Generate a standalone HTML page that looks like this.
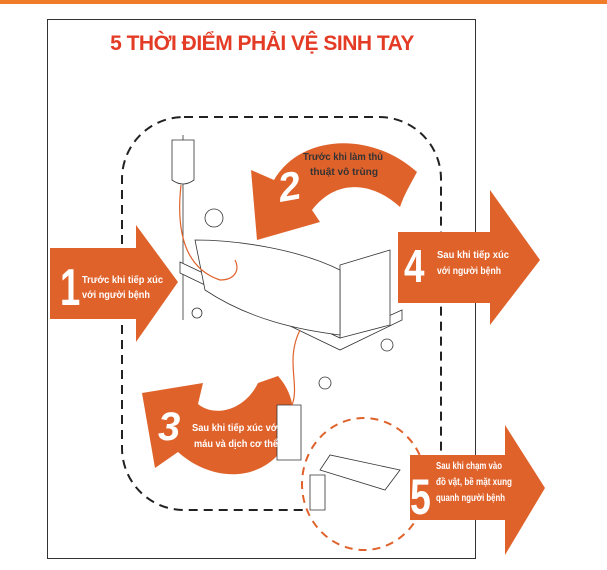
<!DOCTYPE html>
<html><head><meta charset="utf-8"><style>
html,body{margin:0;padding:0;background:#fff;}
svg{display:block;}
text{font-family:"Liberation Sans",sans-serif;}
</style></head><body>
<svg width="607" height="570" viewBox="0 0 607 570">
<rect x="0" y="0" width="607" height="4" fill="#f07c2a"/>
<rect x="47.5" y="19.5" width="428" height="539" fill="#fff" stroke="#333" stroke-width="1"/>
<text x="262" y="50" text-anchor="middle" font-size="21" font-weight="bold" fill="#e33b25" letter-spacing="-0.5">5 THỜI ĐIỂM PHẢI VỆ SINH TAY</text>
<rect x="122" y="117" width="319" height="393" rx="62" fill="none" stroke="#222" stroke-width="2" stroke-dasharray="9,6"/>
<g fill="#e0622b">
<polygon points="50,248 136,248 136,225 178,282 136,342 136,319 50,319"/>
<polygon points="398,232 490,232 490,190 540,260 490,325 490,303 398,303"/>
<path d="M251,170 L274,180 C300,135 370,130 417,172 C410,185 404,195 400,207 C370,180 335,180 312,210 L320,222 L257,240 Z"/>
<path d="M142,393 L203,383 L198,404 C215,418 245,410 258,383 L278,376 C295,395 298,420 285,445 C265,480 215,485 178,452 L155,468 Z"/>
</g>
<ellipse cx="364" cy="484" rx="62" ry="66" fill="#fff" stroke="#e0622b" stroke-width="2" stroke-dasharray="8,6"/>
<polygon fill="#e0622b" points="410,455 505,455 505,425 545,488 505,555 505,520 410,520"/>
<g fill="none" stroke="#333" stroke-width="0.8">
<line x1="183" y1="135" x2="183" y2="320"/>
<path d="M172,140 h22 v40 q-11,8 -22,0 z" fill="#fff"/>
<path d="M180,273 L340,350 L402,320 L402,310 L340,338 L180,262 z" fill="#fff"/>
<path d="M340,265 L390,250 L390,325 L340,338 z" fill="#fff"/>
<path d="M195,240 C240,240 300,250 340,270 L340,335 C300,330 250,320 205,290 z" fill="#fff"/>
<circle cx="214" cy="218" r="9" fill="#fff"/>
<circle cx="197" cy="313" r="5"/><circle cx="325" cy="383" r="6"/><circle cx="387" cy="345" r="6"/>
<path d="M277,405 h24 v55 h-24 z" fill="#fff"/>
<path d="M320,470 L385,490 L400,470 L330,455 z" fill="#fff"/>
<path d="M310,475 h15 v35 h-15 z"/>
</g>
<path d="M181,185 C175,240 190,270 220,280 C235,280 240,270 235,260" fill="none" stroke="#e0622b" stroke-width="1.2"/>
<path d="M300,330 C285,360 300,385 292,405" fill="none" stroke="#e0622b" stroke-width="1.2"/>
<g fill="#fff" font-weight="bold" font-size="10.5">
<text x="60" y="305" font-size="52" transform="translate(60 0) scale(0.7 1) translate(-60 0)">1</text>
<text x="82" y="283" textLength="81" lengthAdjust="spacingAndGlyphs">Trước khi tiếp xúc</text>
<text x="82" y="298" textLength="68" lengthAdjust="spacingAndGlyphs">với người bệnh</text>
<text x="278" y="200" font-size="40" font-style="italic" transform="rotate(-10 290 185)">2</text>
<text x="303" y="160" fill="#333" textLength="80" lengthAdjust="spacingAndGlyphs">Trước khi làm thủ</text>
<text x="310" y="175" fill="#333" textLength="68" lengthAdjust="spacingAndGlyphs">thuật vô trùng</text>
<text x="404" y="282" font-size="46" transform="translate(404 0) scale(0.8 1) translate(-404 0)">4</text>
<text x="437" y="258" textLength="72" lengthAdjust="spacingAndGlyphs">Sau khi tiếp xúc</text>
<text x="437" y="274" textLength="64" lengthAdjust="spacingAndGlyphs">với người bệnh</text>
<text x="158" y="440" font-size="40" font-style="italic">3</text>
<text x="192" y="431" textLength="88" lengthAdjust="spacingAndGlyphs">Sau khi tiếp xúc với</text>
<text x="194" y="447" textLength="84" lengthAdjust="spacingAndGlyphs">máu và dịch cơ thể</text>
<text x="410" y="514" font-size="50" transform="translate(410 0) scale(0.75 1) translate(-410 0)">5</text>
<text x="436" y="469" textLength="66" lengthAdjust="spacingAndGlyphs">Sau khi chạm vào</text>
<text x="436" y="485" textLength="76" lengthAdjust="spacingAndGlyphs">đồ vật, bề mặt xung</text>
<text x="436" y="501" textLength="69" lengthAdjust="spacingAndGlyphs">quanh người bệnh</text>
</g>
</svg>
</body></html>
